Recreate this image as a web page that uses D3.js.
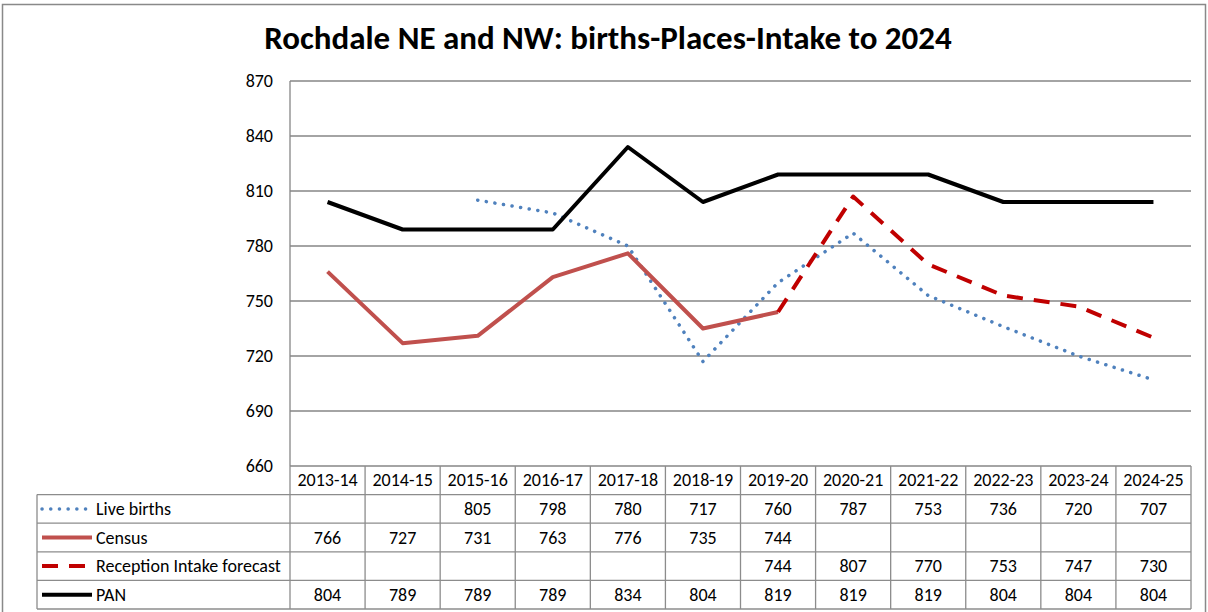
<!DOCTYPE html>
<html>
<head>
<meta charset="utf-8">
<script src="https://cdn.jsdelivr.net/npm/d3@7"></script>
<style>
  body { margin: 0; background: #fff; }
  svg text { font-family: Carlito, "Liberation Sans Narrow", "Liberation Sans", sans-serif; fill: #000; }
</style>
</head>
<body>
<svg id="chart" width="1208" height="612"></svg>
<script>
// Chart data
const years = ["2013-14", "2014-15", "2015-16", "2016-17", "2017-18", "2018-19",
               "2019-20", "2020-21", "2021-22", "2022-23", "2023-24", "2024-25"];
const liveBirths = [null, null, 805, 798, 780, 717, 760, 787, 753, 736, 720, 707];
const census = [766, 727, 731, 763, 776, 735, 744, null, null, null, null, null];
const receptionIntake = [null, null, null, null, null, null, 744, 807, 770, 753, 747, 730];
const pan = [804, 789, 789, 789, 834, 804, 819, 819, 819, 804, 804, 804];
const yTicks = [660, 690, 720, 750, 780, 810, 840, 870];

const series = [
    { name: "Live births", values: liveBirths, color: "#4F81BD", width: 3.5, dash: "0.1 8.6", cap: "round" },
    { name: "Census", values: census, color: "#C0504D", width: 4, dash: null, cap: "butt" },
    { name: "Reception Intake forecast", values: receptionIntake, color: "#C00000", width: 4, dash: "16 11", cap: "butt" },
    { name: "PAN", values: pan, color: "#000000", width: 4, dash: null, cap: "butt" }
];

const svg = d3.select("#chart");
const plot = { left: 290, right: 1191, top: 81, bottom: 466 };
const tableLeft = 37;
const rowH = 28.6;
const fontSize = "18px";

// Outer frame
svg.append("rect")
    .attr("x", 2.5).attr("y", 4.5)
    .attr("width", 1203).attr("height", 620)
    .attr("fill", "none")
    .attr("stroke", "#898989")
    .attr("stroke-width", 1.5);

// Title
svg.append("text")
    .attr("x", 608)
    .attr("y", 49)
    .attr("text-anchor", "middle")
    .style("font-size", "33px")
    .style("font-weight", "bold")
    .text("Rochdale NE and NW: births-Places-Intake to 2024");

const x = d3.scaleBand()
    .domain(years)
    .range([plot.left, plot.right]);

const y = d3.scaleLinear()
    .domain([660, 870])
    .range([plot.bottom, plot.top]);

// Gridlines
svg.append("g")
    .selectAll("line")
    .data(yTicks)
    .enter().append("line")
    .attr("x1", plot.left).attr("x2", plot.right)
    .attr("y1", d => y(d)).attr("y2", d => y(d))
    .attr("stroke", "#868686")
    .attr("stroke-width", 1.3);

// Y axis line
svg.append("line")
    .attr("x1", plot.left).attr("x2", plot.left)
    .attr("y1", plot.top).attr("y2", plot.bottom)
    .attr("stroke", "#868686")
    .attr("stroke-width", 1.3);

// Y axis labels
svg.append("g")
    .selectAll("text")
    .data(yTicks)
    .enter().append("text")
    .attr("x", 273)
    .attr("y", d => y(d) + 6)
    .attr("text-anchor", "end")
    .style("font-size", fontSize)
    .text(d => d);

// Lines
series.forEach(s => {
    const line = d3.line()
        .defined(d => d !== null)
        .x((d, i) => x(years[i]) + x.bandwidth() / 2)
        .y(d => y(d));

    svg.append("path")
        .datum(s.values)
        .attr("fill", "none")
        .attr("stroke", s.color)
        .attr("stroke-width", s.width)
        .attr("stroke-dasharray", s.dash)
        .attr("stroke-linecap", s.cap)
        .attr("stroke-linejoin", "round")
        .attr("d", line);
});

// Data table
const table = svg.append("g");
const gridColor = "#8c8c8c";
const tableTop = plot.bottom;
const tableBottom = tableTop + rowH * 5;

// Horizontal lines
const hLines = d3.range(1, 6).map(i => tableTop + rowH * i);
table.selectAll(".hline")
    .data(hLines)
    .enter().append("line")
    .attr("x1", tableLeft).attr("x2", plot.right)
    .attr("y1", d => d).attr("y2", d => d)
    .attr("stroke", gridColor)
    .attr("stroke-width", 1.3);

// Vertical lines
table.selectAll(".vline")
    .data(years.concat(["end"]))
    .enter().append("line")
    .attr("x1", (d, i) => i < years.length ? x(d) : plot.right)
    .attr("x2", (d, i) => i < years.length ? x(d) : plot.right)
    .attr("y1", tableTop).attr("y2", tableBottom)
    .attr("stroke", gridColor)
    .attr("stroke-width", 1.3);

table.append("line")
    .attr("x1", tableLeft).attr("x2", tableLeft)
    .attr("y1", tableTop + rowH).attr("y2", tableBottom)
    .attr("stroke", gridColor)
    .attr("stroke-width", 1.3);

// Header labels
table.selectAll(".year")
    .data(years)
    .enter().append("text")
    .attr("x", d => x(d) + x.bandwidth() / 2)
    .attr("y", tableTop + rowH / 2 + 6)
    .attr("text-anchor", "middle")
    .style("font-size", fontSize)
    .text(d => d);

// Rows
series.forEach((s, r) => {
    const rowY = tableTop + rowH * (r + 1);
    const midY = rowY + rowH / 2;

    table.append("line")
        .attr("x1", 42).attr("x2", 92)
        .attr("y1", midY).attr("y2", midY)
        .attr("stroke", s.color)
        .attr("stroke-width", s.width)
        .attr("stroke-dasharray", s.dash)
        .attr("stroke-linecap", s.cap);

    table.append("text")
        .attr("x", 96)
        .attr("y", midY + 6)
        .style("font-size", fontSize)
        .text(s.name);

    const cells = s.values
        .map((v, i) => ({ year: years[i], value: v }))
        .filter(d => d.value !== null);

    table.selectAll(".v" + r)
        .data(cells)
        .enter().append("text")
        .attr("x", d => x(d.year) + x.bandwidth() / 2)
        .attr("y", midY + 6)
        .attr("text-anchor", "middle")
        .style("font-size", fontSize)
        .text(d => d.value);
});
</script>
</body>
</html>
